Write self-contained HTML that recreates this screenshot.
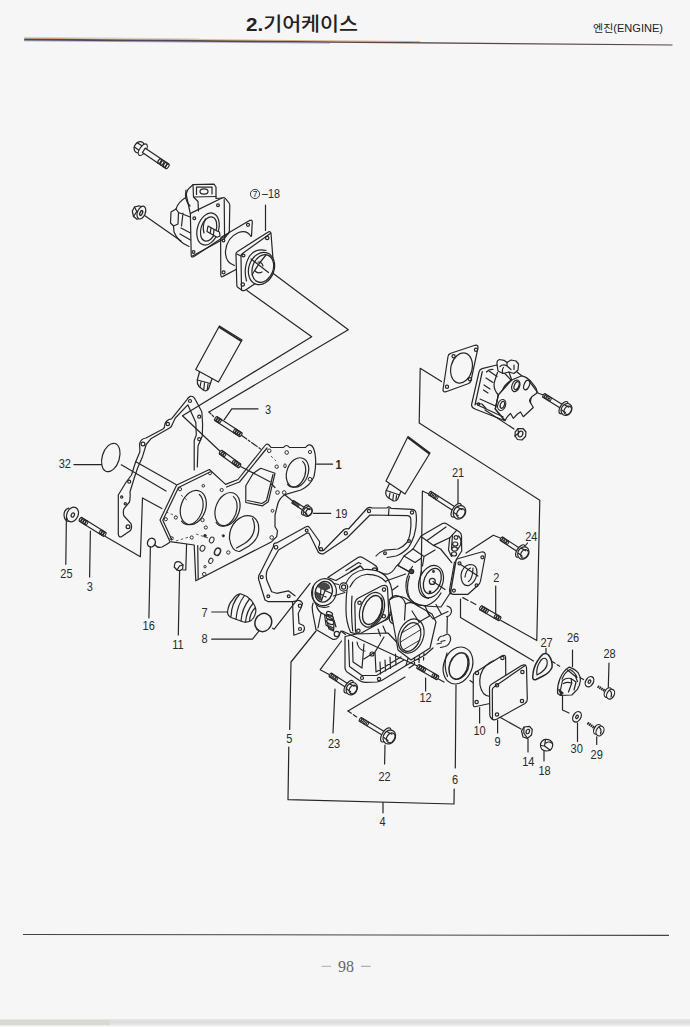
<!DOCTYPE html>
<html lang="ko"><head><meta charset="utf-8"><title>2.기어케이스</title>
<style>
html,body{margin:0;padding:0;background:#f6f6f6;}
body{width:690px;height:1027px;overflow:hidden;position:relative;font-family:"Liberation Sans","Noto Sans CJK KR",sans-serif;}
svg{position:absolute;left:0;top:0;display:block}
.ln{fill:none;stroke:#262626;stroke-width:1.2;stroke-linecap:round;stroke-linejoin:round}
.ld{fill:none;stroke:#3a3a3a;stroke-width:0.9}
.w{fill:#f6f6f6;stroke:#262626;stroke-width:1.2;stroke-linejoin:round}
.k{fill:#333;stroke:none}
.lb{font-family:"Liberation Sans","Noto Sans CJK KR",sans-serif;font-size:12.5px;fill:#2a2a2a;text-anchor:middle}
.ttl{font-family:"Liberation Sans","Noto Sans CJK KR",sans-serif;font-size:19px;font-weight:700;fill:#222}
.sub{font-family:"Liberation Sans","Noto Sans CJK KR",sans-serif;font-size:10.5px;fill:#222}
.pg{font-family:"Liberation Serif","Noto Serif CJK SC",serif;font-size:16px;fill:#666;text-anchor:middle}
</style></head><body>
<svg width="690" height="1027" viewBox="0 0 690 1027">
<!-- 00_frame.svg -->
<defs>
<linearGradient id="hl" x1="0" x2="1" y1="0" y2="0">
<stop offset="0" stop-color="#8a6a6a"/><stop offset="0.25" stop-color="#6a5a7a"/><stop offset="0.4" stop-color="#9a6a4a"/><stop offset="0.6" stop-color="#5a5a6a"/><stop offset="1" stop-color="#6a6060"/>
</linearGradient>
</defs>
<text class="ttl" x="246" y="31" textLength="112" lengthAdjust="spacingAndGlyphs"><tspan font-weight="700">2.</tspan><tspan font-weight="500">기어케이스</tspan></text>
<text class="sub" x="593" y="32" textLength="70" lengthAdjust="spacingAndGlyphs">엔진(ENGINE)</text>
<polygon points="24.2,38.4 300,41 672.5,44.4 672.5,45.5 300,42.6 24.2,40.6" fill="#54484c"/>
<line x1="24.2" y1="38.2" x2="420" y2="41.6" stroke="#c8823c" stroke-width="0.9" opacity=".7"/>
<line x1="24.2" y1="40.8" x2="330" y2="43.1" stroke="#5060b0" stroke-width="0.8" opacity=".6"/>
<line x1="24.2" y1="37.3" x2="200" y2="38.9" stroke="#cfcfcf" stroke-width="0.9"/>
<line x1="23" y1="934.5" x2="669" y2="935.4" stroke="#444" stroke-width="1.1"/>
<text class="pg" x="346" y="972">98</text>
<line x1="321.5" y1="966.3" x2="331" y2="966.3" stroke="#999" stroke-width="0.8"/>
<line x1="361" y1="966.3" x2="370.7" y2="966.3" stroke="#888" stroke-width="0.8"/>
<rect x="0" y="1019" width="690" height="6.5" fill="#e6e6e3"/>
<rect x="0" y="1020" width="110" height="5" fill="#d9d9d4"/>
<rect x="110" y="1020.5" width="580" height="3" fill="#dededa"/>

<!-- 10_topleft.svg -->
<g class="ln">
<!-- nut -->
<path class="w" d="M132.3 211 L134.5 207 L139 205.8 L142 207 L141 218 L137 219.3 L133.5 216.5 Z" stroke-width="1.3"/>
<path d="M134.5 207 L136.8 211.5 L133.5 216.5 M136.8 211.5 L140 211"/>
<ellipse class="w" cx="141.4" cy="212.6" rx="3.9" ry="6.7" transform="rotate(22 141.4 212.6)" stroke-width="1.3"/>
<ellipse cx="141.2" cy="213" rx="1.2" ry="2.6" transform="rotate(22 141.2 213)" stroke-width="1.4"/>
<line x1="144.6" y1="215.6" x2="181" y2="241"/>
<!-- pump plate -->
<path class="w" d="M190.4 215 Q190.2 213.2 192 212.6 L222 198 Q224 197.2 225.5 198.6 L229 203 Q229.8 204 229.8 205.5 L229.3 231.5 Q229.3 233 228 234 L194 256.5 Q191.3 258 191.2 255 Z"/>
<path d="M224.2 199.5 L224.6 238.5 M191.5 256.5 L224.6 238.5 L229.2 232"/>
<circle cx="194.3" cy="218.3" r="1.4"/><circle cx="218" cy="205.2" r="1.4"/><circle cx="193.5" cy="252" r="1.4"/>
<ellipse cx="208" cy="229" rx="10.5" ry="16.5" transform="rotate(18 208 229)"/>
<ellipse cx="208.6" cy="229" rx="7.6" ry="12.5" transform="rotate(18 208.6 229)"/>
<path d="M204 233 Q202 226 205.5 219"/>
<path class="w" d="M208 226 L217.5 231.2 L219.5 232 L220 236 L217 237.3 L207 231.5 Z"/>
<path d="M211 228 L210.2 233.2 M214 229.6 L213.4 235"/>
<!-- pump body -->
<path d="M190.4 214 L186.5 196 Q186 190.5 190 187.5 L193 184.6 L214 184.2 L216 187 L216 198.5 L222 198"/>
<path d="M193 184.6 L193.5 197 L198 201.5 L198.5 211 M193.5 197 L216 196.5 M196.5 187.2 L196.5 194.5 M196.5 187.2 L212 187 L212 194"/>
<ellipse cx="204" cy="191.5" rx="4" ry="2.6"/>
<path d="M186.5 197 Q178 202 176 209 L171 212 L170.5 223 L173.5 226 L174 232 Q178 242 189 246.5"/>
<path d="M176 209 L178.5 212.5 L178 224 L173.5 226 M178.5 212.5 L190.2 217 M181 228 L190.5 233 M180 234 L190.5 240 M183 213 L181.5 226"/>
<path d="M186 190 Q184 200 190 206"/>
<!-- gasket -->
<path d="M220.6 239 Q220.4 237.6 222 236.8 L249.5 220.6 Q252.3 219.2 252.3 222 L251.5 236"/>
<path d="M220.6 239 L220.8 275 Q220.9 277.6 223 276.4 L236 269.5"/>
<path d="M251 236.5 Q247 229.5 238.5 232.5 Q227 237.5 225.5 251 Q225 262.5 234.5 265.5"/>
<circle cx="248" cy="224.8" r="1.5"/><circle cx="223.6" cy="272.3" r="1.5"/><circle cx="223.5" cy="240.5" r="1.3"/>
<!-- adapter 7-18 -->
<path class="w" d="M236 254.5 Q235.8 252.6 237.6 251.6 L267.5 232.4 Q270.6 230.6 271 233.5 L273 259 L273.3 271 L246 289.8 Q243.5 291.5 241.5 290 L238 287.6 Q236.8 286.8 236.8 285 Z"/>
<path d="M241.5 290 L241 256 Q241 254.5 242.5 253.5 L270.6 233.2"/>
<path d="M236.8 254 L241 256"/>
<circle cx="267.2" cy="238" r="1.7"/><circle cx="242.8" cy="284.5" r="1.7"/><circle cx="243.5" cy="255.5" r="1.4"/>
<ellipse class="w" cx="261.5" cy="268.5" rx="12.6" ry="16.6" transform="rotate(20 261.5 268.5)"/>
<ellipse cx="262.8" cy="268.5" rx="10.3" ry="14.3" transform="rotate(20 262.8 268.5)"/>
<path d="M246.5 281 Q243 268 249 257 Q255 247.5 266 250.5"/>
<path d="M251 259 L268.5 272.5 M252 275 Q258 264 266 255"/>
<path d="M258 262 Q262 262 263 266 M255 271 Q258 274 262 272"/>
<line x1="265.5" y1="205" x2="265.5" y2="230.5"/>
<!-- axis lines -->
<path d="M273.3 273.5 L348.3 329.7 L209 412"/>
<path d="M247 290.5 L311.7 336.7 L182.5 415.8"/>
</g>
<g class="lb">
<circle cx="255" cy="194" r="4.6" fill="none" stroke="#2a2a2a" stroke-width="0.9"/>
</g>

<!-- 20_gasket_left.svg -->
<g class="ln">
<!-- sealant tube 1 -->
<path d="M219.4 326 L242 340 L218.5 382 L195.7 369.5 Z"/>
<path d="M219.8 327.5 L241 341" stroke-width="1.6"/>
<path d="M199.5 372 L197.3 380 Q196.8 384 199 386.5 L204 390.5 Q207 391.5 208.5 389 L212 378.7"/>
<path d="M197.3 380 L210.5 383.5 M201 382 L200 387 M204.5 383 L203.8 389.5 M208 384 L207.3 389.5"/>
<!-- stud 3 upper -->
<path d="M224.3 419.6 L231.8 408.9 L258 408.9"/>
<path d="M209 412 L213.5 416.5" stroke-dasharray="3 1.5"/>
<path d="M241 435 L262 450" stroke-dasharray="7 2 2 2"/>
<!-- stud lower -->
<path d="M182.5 415.8 L220.3 451.5"/>
<!-- back gasket outline -->
<path d="M197.3 467 L198 446 L202.3 436 L202.6 424 L201.8 411.7 L195.3 399.5 Q193.5 395.5 190.3 396.4 Q188 397.5 186.8 399.8 L171.5 418.8 Q166 419.5 164.8 424.5 Q165 427.5 163 429 L146 438 Q140.5 438.5 139.5 444.5 Q140 449 139.8 452 L135.6 462 L131.5 475 L126.2 482 L118.3 495 L118.3 534 Q118.5 537.5 121.8 536.6 L130.5 530.5 Q132.5 527 130.8 523.3 L124 516 Q122.5 512 124.2 508.3 L129.5 502 Q130.5 497 130 491.7 L134.2 478.3 L137.5 468.3 L142.5 456.7 L146.2 444.5 L150.8 438.8 L169.5 428 Q171.5 427 172 425 L175.3 418 L187.8 404.8 L195.8 422.5 L196.3 435 L194.2 440.5 L194.2 470"/>
<circle cx="190" cy="401" r="1.5"/><circle cx="199.2" cy="416.7" r="1.5"/><circle cx="199.2" cy="439.2" r="1.5"/>
<circle cx="167.8" cy="424" r="1.7"/><circle cx="143" cy="444" r="1.9"/><circle cx="129.2" cy="481.7" r="1.5"/>
<circle cx="121.7" cy="497" r="1.1"/><circle cx="125.3" cy="503.7" r="1.1"/><circle cx="128" cy="526.7" r="1.9"/>
<!-- leader lines gasket to plate -->
<path d="M135.8 461.7 L176 484.5 M121.3 464.8 L166 491"/>
<!-- o-ring 32 -->
<ellipse cx="110.8" cy="457.5" rx="8.6" ry="14.6" transform="rotate(17 110.8 457.5)"/>
<line x1="73.9" y1="464.6" x2="101.5" y2="464.6"/>
<!-- plug 25 -->
<ellipse cx="72.5" cy="514.5" rx="5.6" ry="7.6" transform="rotate(25 72.5 514.5)"/>
<path d="M68.8 508.2 Q64 509.5 64 515 Q64.3 520.5 68.3 521.5"/>
<ellipse cx="72.8" cy="515" rx="1.5" ry="2.2" transform="rotate(25 72.8 515)"/>
<path d="M66.4 517.5 L65.8 564.3"/>
<!-- stud 3 left -->
<path d="M90.4 531 L89.6 577"/>
<path d="M105.4 536.4 L140.4 556.8 L142.5 497.9 L161.8 508.6"/>
<!-- o-ring 16 -->
<ellipse cx="151.4" cy="542.6" rx="3.8" ry="4.5" transform="rotate(25 151.4 542.6)" stroke-width="1.4"/>
<path d="M155 545 Q158 548.5 162 547 Q166 545 169.5 542.5"/>
<path d="M150.4 547 L148.9 617.9"/>
<!-- pin 11 -->
<path class="w" d="M175 563 Q177.5 560.8 180.5 562.3 L183 565 L182.6 569 Q180 571.5 177 570 L174.2 567 Z"/>
<path d="M179.5 566 L183 565 M179.5 566 L177 570"/>
<path d="M179.6 570.7 L178.3 635"/>
<path d="M186.6 543.5 L185.8 570 L183.2 570"/>
</g>
<g class="lb">
</g>

<!-- 21_plate.svg -->
<g class="ln">
<!-- plate 1 outline -->
<path class="w" d="M176.7 485 L209.4 469.5 L225.6 484.4 L238 479.5 L265 445.5 Q266.5 443.5 268.5 444.5 L271 447.3 L283.5 447.5 Q286.5 443.5 289.5 447.5 L305.5 447.5 Q308.8 443 312 446 Q314.5 449 315.2 455 Q316.6 465 314 476.5 Q310 486 300.8 490 L285 494.6 Q279 498.5 277.5 505 L275 515 L275 526.7 L277.5 530.8 L276.7 536.7 L271.7 541.7 L195.8 580.8 L194.2 545 L170 541.7 L160 520 Z"/>
<path d="M178.5 487.5 L162.8 520.3 L171.8 539.7 M178.5 487.5 L209 472.5 M197.7 545.5 L198.2 579"/>
<path d="M226.5 487 L239.5 482 L267 448" />
<!-- big holes -->
<ellipse cx="193.3" cy="507.5" rx="12.3" ry="17.6" transform="rotate(20 193.3 507.5)"/>
<path d="M199.4 494.5 A11.2 16.6 20 1 1 181.6 521.1"/>
<ellipse cx="227.5" cy="509.2" rx="11.8" ry="17.2" transform="rotate(20 227.5 509.2)"/>
<path d="M233.4 496.6 A10.8 16.2 20 1 1 216.1 522.5"/>
<path d="M229.5 539 Q229 528 236 521 Q244 513.5 252.5 516.5 Q260 521 258.5 532 Q257.5 540 249 546 L239.5 551.5 Q232 552 229.5 539 Z"/>
<path d="M252.5 518.5 Q256 525 253.5 532.5 Q251.5 539 244.5 543.5 L236.5 548"/>
<ellipse cx="297.5" cy="472.5" rx="10.6" ry="15.2" transform="rotate(20 297.5 472.5)"/>
<path d="M302.6 461.4 A9.4 14.2 20 1 1 287.5 484.2"/>
<!-- pentagon hole -->
<path d="M260.8 468.3 L275 473.3 L268.3 501.7 L262.5 505.8 L245.8 502.5 L245.8 485.8 L253.3 473.3 Z"/>
<path d="M273 474.5 L266.5 500.5 L262 503.5 L247.5 500.5"/>
</g>
<g fill="none" stroke="#2e2e2e" stroke-width="1">
<circle cx="180" cy="489.2" r="1.6"/><circle cx="203.3" cy="485.8" r="1.3"/><circle cx="210" cy="473.3" r="1.5"/><circle cx="221.7" cy="490" r="1.6"/>
<circle cx="165.8" cy="519.2" r="1.6"/><circle cx="175.8" cy="517.5" r="1.6"/><circle cx="202.5" cy="520" r="1.7"/><circle cx="205.8" cy="527.5" r="1.6"/>
<circle cx="205" cy="535.8" r="1.3" fill="#333"/><ellipse cx="211.7" cy="540" rx="2.2" ry="3" transform="rotate(25 211.7 540)"/>
<circle cx="191.7" cy="537.5" r="1.6"/><circle cx="171.7" cy="538.3" r="1.6"/>
<ellipse cx="202.5" cy="548.3" rx="2.3" ry="3" transform="rotate(25 202.5 548.3)"/>
<ellipse cx="217.5" cy="551.7" rx="2.8" ry="3.8" transform="rotate(25 217.5 551.7)" stroke-width="1.5"/>
<circle cx="228.3" cy="552.5" r="1.7"/><circle cx="223.3" cy="535.8" r="1.1" fill="#333"/>
<ellipse cx="210.8" cy="560.8" rx="2" ry="2.7" transform="rotate(25 210.8 560.8)"/><circle cx="205" cy="566.7" r="1.2"/><circle cx="204.2" cy="574.2" r="1.8"/>
<circle cx="269.2" cy="450.8" r="1.8"/><circle cx="286.7" cy="452.5" r="1.8"/><circle cx="310" cy="452" r="1.6"/>
<circle cx="276.7" cy="466.7" r="1.7"/><ellipse cx="285" cy="465.8" rx="1.2" ry="2"/><circle cx="310" cy="479.2" r="1.8"/>
<circle cx="277.5" cy="492.5" r="1.8"/><circle cx="284.2" cy="492.5" r="1.8"/><circle cx="272.5" cy="510.8" r="1.4"/><circle cx="271.7" cy="537.5" r="1.8"/>
<path d="M181 495 L187 500 M166 512 L176 516 M176 541 L189 537 M208 538 L196 534" stroke-dasharray="2.5 2.5" stroke-width="0.8"/>
<path d="M271 456 L276 461" stroke-dasharray="2.5 2.5" stroke-width="0.8"/>
</g>
<g class="ln">
<!-- bolt 19 -->
<path d="M285 495 L301.5 508"/>
<line x1="313.3" y1="513.3" x2="330.8" y2="513.3"/>
<line x1="316.7" y1="464.2" x2="332.5" y2="464.2"/>
</g>
<g class="lb">
</g>

<!-- 30_frontgasket.svg -->
<g class="ln">
<path d="M239.6 466 L270 481.7 M271.5 484 L275 487.5"/>
<!-- item 7 cap -->
<path class="w" d="M227.5 612 Q228.5 604 232.5 600 Q236 594 240.5 593.8 L247 596.5 Q252 600 254.3 605 Q256.5 609 255.6 612.5 Q254.5 618 250.8 620.8 Q247 623 243 621.7 L231 617.5 Q227.5 615.5 227.5 612 Z"/>
<path d="M239.5 594.5 Q231.5 603 231 616.5 M244.5 595.5 Q237 605 236 619.3 M249.5 599 Q242 608 241 621 M253 603.5 Q246.5 611 245.5 622 M255 608 Q250 613 249.5 621"/>
<line x1="211.7" y1="612" x2="227.5" y2="612"/>
<!-- o-ring 8 -->
<ellipse cx="263.3" cy="622.5" rx="8.2" ry="9.3" transform="rotate(25 263.3 622.5)" stroke-width="1.5"/>
<path d="M211.7 639.2 L252.5 639.2 L259 631"/>
<path d="M310 583.3 L274.2 629.2 L272.5 628.2"/>
<!-- front gasket 5 -->
<path d="M296.7 600.8 L292.5 601.7 L268.3 601.7 L265 600 L259 580.5 Q257.5 576.5 260 573.5 L273.5 546.5 Q273 542.5 277 542.8 L306 526.8 Q308 525.5 309.5 527.5 L319.5 541.5 Q320 544.5 318.5 547 Q319.5 551.5 323.5 550.5 L344 529.5 Q347 528 348.5 529 L367 508.5 Q369.5 506.5 372 508 L387 508 Q389 505.5 391 508.3 L412 509.3 Q415.5 509.5 416 513 Q417.5 524 414 536 Q411 544 408 548 Q402 554 396 556 L387 557.5"/>
<path d="M295 595.8 L288.3 590.8 L276.7 593.3 L271.7 591.7 L266.7 580 Q265.5 574 267.5 569.5 L278.5 550 L306.5 533.2 L309 533.2 L317.5 550.5 Q319 554.5 323.5 553.8 L347 538 L370 515 L408 515.6 Q410.5 516 410.8 519 Q411.5 526 410 534 Q409 539 407 542.5 Q403 547 398 549 L384.5 550.2 Q379 552 376 556"/>
<path d="M296.7 600.8 Q300.5 599.5 302.5 603.3 Q301.5 608 298.3 613.3 L299 623.5 L303.5 625.5 Q305.5 628.5 303.3 631.7 L293.8 635.2 L292.5 601.7"/>
<circle cx="300" cy="605.8" r="1.7"/><circle cx="300" cy="629" r="1.5"/>
<circle cx="268.3" cy="596.2" r="1.4"/><circle cx="288.7" cy="596.2" r="1.4"/><circle cx="261.7" cy="577.2" r="1.5"/>
<circle cx="276" cy="547.3" r="1.8"/><circle cx="306.7" cy="530.6" r="1.4"/><circle cx="320.9" cy="549.3" r="1.7"/>
<circle cx="345.8" cy="533.2" r="1.6"/><circle cx="369" cy="511" r="1.6"/><circle cx="412" cy="512.5" r="1.6"/><circle cx="409" cy="541" r="1.4"/><circle cx="385" cy="553.3" r="1.4"/>
<path d="M389 508 L388.5 515.5"/>
<!-- leader 5 -->
<path d="M316 631 L291 662 L289.7 729.5"/>
<!-- sealant tube 2 -->
<path d="M408 436.6 L430 453 L405 494 L386 481 Z"/>
<path d="M408.5 438 L429 453.5" stroke-width="1.6"/>
<path d="M389.5 483.5 L386 491 Q385 495 388 497.5 L393 500.8 Q396 501.5 397.5 499.5 L401 491.3"/>
<path d="M386.5 490.5 L399.5 495 M390 493 L389 498 M393.5 494.5 L392.8 500.3 M396.5 495.5 L396 500.5"/>
<line x1="458" y1="479.5" x2="458" y2="503"/>
</g>
<g class="lb">
</g>

<!-- 40_case.svg -->
<g class="ln">
<!-- ===== main gear case, left ===== -->
<!-- top bracket arm -->
<path class="w" d="M327.8 577.5 L358 557.5 Q360.5 556.3 363 557.8 L374 564.6 Q378.5 567 377.5 571.5 Q376.5 575 373 576 L366 572 L360.5 566 L336 580.5 Z"/>
<path d="M346 570.5 L358.5 562.5 L361 563.8 M350.5 571.5 L360 565.7"/>
<circle cx="374.5" cy="570" r="2.2"/>
<!-- outer housing -->
<path class="w" d="M345.5 584 Q351 571.5 365 569.5 Q378 569 385.5 576 Q392 583 392.5 596 L392 608 L388 619 L356.5 634 L350.6 632.3 Q346 622 346 610 Q346 596 347 591 Z"/>
<path d="M352 596 Q350.8 612 352.7 631"/>
<path d="M350 587 Q355 576 366 574.5 Q379 574 386 582"/>
<!-- flange face -->
<path class="w" d="M354.8 603.5 Q355.5 599.5 358.5 598 L382 585.8 Q387 584.3 387.5 588 L388.8 613.5 Q388.6 617.5 385 620 L360.5 633.5 Q355.8 635 355.5 631 Z"/>
<circle cx="359.5" cy="602.8" r="1.7"/><circle cx="384" cy="589.6" r="1.7"/><circle cx="383.8" cy="616.3" r="1.7"/><circle cx="358.4" cy="630.8" r="1.7"/>
<ellipse cx="372" cy="609.8" rx="11.6" ry="18" transform="rotate(21 372 609.8)"/>
<ellipse cx="372.3" cy="610" rx="8.8" ry="15.2" transform="rotate(21 372.3 610)" stroke-width="1.4"/>
<path d="M381.5 598 Q384 604 381.5 613 Q378.5 622 371 626"/>
<!-- boss ring for item 7 -->
<ellipse class="w" cx="324" cy="592.2" rx="12.2" ry="13.6" transform="rotate(20 324 592.2)"/>
<path d="M313.5 586 Q310.5 597 316 604.5 Q321 609 329 606.5"/>
<ellipse cx="323.8" cy="591.8" rx="8.4" ry="10.5" transform="rotate(20 323.8 591.8)" stroke-width="1.4"/>
<path d="M318 586.5 Q320 582.5 325 583 Q329.5 584 330 588 L325 590.5 L321 588.5 Z" fill="#4a4648" stroke="#333" stroke-width="0.8"/>
<path d="M315.8 592 L320.5 594 L321.5 600.5 L318.5 599 Q315.5 596 315.8 592 Z" fill="#4a4648" stroke="#333" stroke-width="0.8"/>
<path d="M321 588.5 L320.5 594 M325 590.5 L321.5 600.5 M325 590.5 L331.5 593.5 M320.5 594 L326 597"/>
<circle class="w" cx="343.6" cy="587" r="4.1"/><circle cx="343.6" cy="587" r="2.1"/>
<path d="M334 583.5 L338.5 584.5 M333.5 596 L345 592.5"/>
<!-- left lower bracket -->
<path d="M313 603 Q311.5 607 312.6 612 L316 629.6 L332.7 639.3 Q336 640 338 637.5 L341 631 L345.5 634.5"/>
<path d="M316.5 606 Q318 612 324.5 614.5 L329 617 M318 628 L321 613 M324.5 614.5 L326 625 L333 630 M329 617 L334 620 L336 627"/>
<ellipse cx="329.5" cy="613.8" rx="3.2" ry="2" transform="rotate(25 329.5 613.8)"/><ellipse cx="329.8" cy="617.5" rx="3.8" ry="2.3" transform="rotate(25 329.8 617.5)"/><ellipse cx="330.3" cy="621.8" rx="3.8" ry="2.3" transform="rotate(25 330.3 621.8)"/><path d="M327.5 623 L329 629 L333.5 631 L334 624" stroke-width="1.3"/><path d="M329.5 626 L333 628" stroke-width="1.3"/>
<circle cx="336.8" cy="634" r="2.6"/>
<!-- lower housing -->
<path class="w" d="M345 636.5 L345 668 Q345.5 671.5 348.5 673 L359.5 680.5 Q362.5 682.5 366 682.3 L377 682 Q380 681.5 382.5 680 L406 665.5 L409 655 L388 633 L356.5 634 Z"/>
<path d="M348.5 640 L349.5 666.5 L362 675.5 L376.5 675.5 L404 660"/>
<path d="M352.5 642 L353 662 L362 668 M357 642 Q358 648 362 650 L365 651 M362 668 L364 644 M364 659 L375 652 L376 672 M375 652 L384 637 M380 662 L380.5 674 M385 660 L385.5 671 M390 657 L390.5 668.5 M395.5 654 L396 665 M376 672 L401 657"/>
<circle cx="372" cy="654" r="2"/><circle cx="379" cy="679" r="1.6"/><circle cx="362" cy="678" r="1.5"/>
<path d="M383 626 L386 633 M378 629 L380.5 636"/>
<!-- right boss -->
<circle class="w" cx="394.9" cy="618.5" r="5.6"/><circle cx="394.9" cy="618.5" r="3.2" stroke-width="1.4"/>
<!-- second bore (lower right) -->
<path class="w" d="M389 600 Q397 594 405 598 L418 606 L432 614 L436 622 L430 648 L411 660 L398 650 Z" stroke="none"/>
<ellipse class="w" cx="411" cy="636" rx="12.3" ry="17.6" transform="rotate(21 411 636)"/>
<ellipse cx="410.5" cy="637" rx="9.6" ry="14.8" transform="rotate(21 410.5 637)"/>
<path d="M401.5 633 L419.5 622.5 M400.5 642 L421 629.5 M403 650 L420 640" stroke-width="0.9"/>
<path d="M389.5 600 Q393 594.5 398.5 596 Q404 598 405.5 604 L404.5 620"/>
<path d="M405.5 604 Q412 600.5 419 606"/>
<!-- bottom right of lower housing -->
<path d="M406 665.5 L425 655 L433 648 M409 668 L414.5 664.5 L414.5 657.5 M419 662.5 L419.5 655.5 M423.5 660 L424 653"/>
<!-- bridge -->
<path d="M379.6 572 Q388 577.5 394 569.5 Q398 563 403.5 561 L412 567.6 M386 581 L405.6 574 M392.5 590 L398 586"/>
<!-- ===== right part ===== -->
<path class="w" d="M421 536 L442.5 523.5 Q444.5 522.5 446.5 523.7 L459.5 532 Q461.5 533.5 461.5 536 L461.7 551 L456 560 L450.5 592.5 L441 607 L425 606 Q412 604.5 408 596 Q404.5 588 407 578 L409.5 572 L398 565.5 L404 556 L413 549 Z"/>
<path d="M421.3 536.8 L433.5 545.4 L449.7 537.8 L456.8 530.2 M433.5 545.4 L440.6 549 L451.7 562.7 M427 540.5 L446 527"/>
<path d="M449.7 537.8 L448.5 550 L451.5 556.5 M452.5 534.5 L451.5 549"/>
<circle cx="456" cy="537.5" r="1.9"/><ellipse cx="455.2" cy="544" rx="2.6" ry="2" /><ellipse cx="454.6" cy="549" rx="2.8" ry="2.1"/><ellipse cx="454" cy="554" rx="2.6" ry="2"/>
<path d="M458.5 536 Q462 539 460.5 545 L458 549"/>
<path d="M413 549 L424 556.5 L435 550 M424 556.5 L422.5 566 M404 556 L415 562.5 L421.5 558"/>
<path d="M398 565.5 L409 571.5 L412.5 566.5"/>
<circle cx="411.5" cy="571.5" r="2.2" fill="#444"/>
<!-- hub -->
<ellipse class="w" cx="431" cy="581.7" rx="11.7" ry="16.8" transform="rotate(21 431 581.7)"/>
<ellipse cx="432.3" cy="581" rx="8.2" ry="13.2" transform="rotate(21 432.3 581)" stroke-width="1.3"/>
<circle cx="432.3" cy="581.4" r="3"/>
<path d="M421.5 571 Q418.5 581 421.5 591 Q424 597 428.5 598.5"/>
<circle cx="433.5" cy="571.5" r="0.8"/><circle cx="430" cy="592" r="0.8"/>
<path d="M409.5 576 Q405.5 588 409.5 598 Q415 606.5 427 605.5 Q436 602 441 593"/>
<path d="M433 581.5 L445 589.5"/>
<!-- square flange -->
<path class="w" d="M456 561 Q456.3 559 458.5 558.5 L481.5 552 Q485.5 551.5 485.3 555.5 L480.5 581 Q480 584 477.5 585.8 L468 594.3 L453 594.3 Q450.5 594 450.8 591.5 Z"/>
<path d="M454.5 562 L449.5 590 Q449.3 592.5 450.8 593.8"/>
<circle cx="459.5" cy="563.4" r="1.5"/><circle cx="482.4" cy="557.3" r="1.5"/><circle cx="453.9" cy="590.6" r="1.5"/><circle cx="476.5" cy="585.2" r="1.4"/>
<path d="M461 575 Q462.5 565.5 470 564.5 Q477.5 564.5 477 573 Q476 582 469 585.5 Q461.5 587 461 575 Z"/>
<path d="M465 577 Q466 569.5 470.5 568 M468.5 581.5 Q471.5 579.5 472.5 573.5 L473 568" />
<path d="M459.8 564 L478 576"/>
<!-- small arm below hub -->
<path d="M436 604.5 L441.5 614.5 L433 619 L427 611.5 M441.5 614.5 L448 611.5"/>
<path d="M447 606 Q451.5 607 451.5 611.5 Q450.5 616.5 446.5 616.5"/>
<path d="M447.3 617 L447 633"/>
<path d="M438 640.5 Q439 636 443 636 L447.5 634 Q451 635.5 450.5 640 Q449.5 645 445 646.5 L440.5 647.5 M441 641.5 L445 640.5 M437 644 L441.5 643"/>
<path d="M425 606 L429.5 616 L419 622 L412 611"/>
</g>

<!-- 50_right.svg -->
<g class="ln">
<path d="M430 494.5 L422.4 491 L421.2 574"/>
<!-- bolt 24 and leader -->
<path d="M466 553 L493.3 535.2 L500.9 538.3"/>
<path d="M527.5 543 L525.5 545.5"/>
<!-- stud 2 -->
<path d="M462.8 597.6 L475.8 604.5" stroke-dasharray="6 3"/>
<line x1="495.7" y1="586.2" x2="495.7" y2="614"/>
<path d="M500.9 620.4 L536.8 640.5 L539.8 500.2 L419.2 423 L420.2 368.3 L441.5 381.6"/>
<path d="M460.5 599 L460.5 617.4 L533.5 661"/>
<!-- item 27 -->
<path d="M543 654.2 Q546 652.5 548.5 655 Q553 661 552 667.5 Q549.5 673 543 676 L536 679.5 Q532.5 680.5 532.7 677 Q533 668 537.5 661 Q540 656.5 543 654.2 Z" stroke-width="1.5"/>
<path d="M543 658.5 Q546 657.5 547 660.5 Q548 665.5 544.5 669.5 Q541 673.5 537 675 Q536 668 539.5 662.5 Q541 659.5 543 658.5 Z"/>
<line x1="546" y1="648.5" x2="546" y2="653"/>
<path d="M552.5 661.7 L561.7 667.5" stroke-dasharray="3 2.5"/>
<!-- item 26 -->
<path class="w" d="M557.6 693.5 Q557 686 560.1 678.3 Q563.5 670.5 569.3 667.1 Q574.5 668.5 578.4 673.2 Q580.5 676.5 580.4 680.3 Q580 685.5 577.4 689.4 L571.8 695 L560.1 695.3 Z" stroke-width="1.4"/>
<path d="M562 679 Q565 672 570 669.5 Q575 672 577 677.5 M567.5 670 L575.5 676.5 L577.5 681.5 M562.5 680.5 Q566 677.5 571 678.5 L576 682 L574 690 M562.5 680.5 L560.5 690 M571 678.5 L571.8 683 L568.5 692 M563.5 683.5 Q567 681.5 571.5 683"/>
<path d="M559 689.5 L563 693 L561 695 Z" fill="#333"/>
<line x1="572.5" y1="650" x2="572.5" y2="666.5"/>
<path d="M562.5 696 L562.5 710 L569 713"/>
<!-- washers -->
<ellipse cx="589.5" cy="681.7" rx="3.8" ry="5.5" transform="rotate(30 589.5 681.7)" stroke-width="1.3"/>
<ellipse cx="589.5" cy="681.7" rx="1.2" ry="1.8" transform="rotate(30 589.5 681.7)"/>
<path d="M580 677.5 L583.5 679.5"/>
<ellipse cx="577" cy="716.8" rx="3.8" ry="5.6" transform="rotate(30 577 716.8)" stroke-width="1.3"/>
<ellipse cx="577" cy="716.8" rx="1.2" ry="1.8" transform="rotate(30 577 716.8)"/>
<line x1="577.5" y1="723" x2="577.5" y2="741.5"/>
<!-- bolt 28 -->
<path d="M597.7 686.4 L605.3 691" stroke-width="2.8" stroke-dasharray="1.5 0.6" stroke-linecap="butt"/>
<ellipse class="w" cx="608" cy="692.6" rx="3.3" ry="5.2" transform="rotate(28 608 692.6)" stroke-width="1.3"/>
<ellipse class="w" cx="610.6" cy="694.2" rx="3.6" ry="5.2" transform="rotate(28 610.6 694.2)" stroke-width="1.3"/>
<path d="M609.5 690.5 Q612.5 692 611 697"/>
<line x1="609" y1="663" x2="608.3" y2="687.3"/>
<!-- bolt 29 -->
<path d="M587.5 722.9 L594.6 728" stroke-width="2.8" stroke-dasharray="1.5 0.6" stroke-linecap="butt"/>
<ellipse class="w" cx="597.4" cy="729.4" rx="3.3" ry="5.2" transform="rotate(28 597.4 729.4)" stroke-width="1.3"/>
<ellipse class="w" cx="600" cy="731" rx="3.6" ry="5.2" transform="rotate(28 600 731)" stroke-width="1.3"/>
<path d="M599 727.3 Q602 729 600.5 734"/>
<line x1="596.7" y1="736.8" x2="596.7" y2="744.5"/>
<!-- oil seal 6 -->
<ellipse class="w" cx="458" cy="665.5" rx="14.2" ry="19" transform="rotate(21 458 665.5)" stroke-width="1.2"/>
<ellipse cx="459" cy="666" rx="9.4" ry="13.6" transform="rotate(21 459 666)" stroke-width="1.5"/>
<path d="M466 655.5 Q469.5 661 466.5 670 Q463 677.5 456.5 679.5"/>
<path d="M447 653 Q443 665 447.5 676.5"/>
<path d="M456 685 L455.3 768 M454.2 789 L454 804 L288 799.7 L288.8 747"/>
<line x1="383" y1="802.6" x2="383" y2="812.8"/>
<!-- axis stud12 through seal -->
<path d="M342.3 631 L417.5 666 M437.5 678.5 L444 682 M470 680.5 L473.5 683"/>
<!-- stud 12 -->
<line x1="425.6" y1="678" x2="425.6" y2="691"/>
<!-- gasket 10 -->
<path class="w" d="M473.3 676 Q473.2 673.5 475.5 672.3 L502.5 655.6 Q505.5 654.3 505.6 657.5 L506 700 L476 706.5 Q473.3 707.5 473.2 704.5 Z"/>
<path d="M494 660.5 Q484 664 480.5 675 Q478 686 483.5 693.5 Q486 696 490 696.5"/>
<circle cx="477" cy="673" r="1.7"/><circle cx="502.4" cy="658" r="1.7"/><circle cx="476.6" cy="702" r="1.7"/>
<line x1="479.6" y1="707.5" x2="479.6" y2="723"/>
<!-- cover 9 -->
<path class="w" d="M489.5 688 Q489.5 685.5 491.5 684.3 L521.5 665.5 Q526 663.5 526.5 667.5 L527.3 699 Q527.3 702 525 703.5 L496.5 719.3 Q493.5 720.5 492 719 L490.3 717 Q489.8 716 489.8 714.5 Z"/>
<path d="M492.5 719.3 L492.3 690 Q492.3 688 494 687 L525.5 665.2"/>
<circle cx="497" cy="685.3" r="1.7"/><circle cx="522.4" cy="672" r="1.7"/><circle cx="522" cy="701" r="1.7"/><circle cx="497" cy="714.5" r="1.7"/>
<line x1="497.6" y1="720" x2="497.6" y2="733"/>
<line x1="500" y1="717.3" x2="521" y2="729"/>
<!-- nut 14 -->
<path class="w" d="M521.5 731 L524 727 L529.5 726.3 L532.3 729.5 L531.5 735 L527.5 738.3 L523 737 Z" stroke-width="1.3"/>
<ellipse cx="527.8" cy="731.5" rx="1.6" ry="2.3" transform="rotate(25 527.8 731.5)"/>
<path d="M524 727 L523.8 733 L527.5 738.3"/>
<line x1="528" y1="739" x2="528" y2="752"/>
<!-- nut 18 -->
<path class="w" d="M540.5 744 Q541.5 740 545.5 739.3 Q550.5 739 552.5 743 Q553.5 747.5 550 750.3 Q545.5 752 542 749.5 Q540 747 540.5 744 Z" stroke-width="1.3"/>
<path d="M545.5 739.5 L544.5 746 L550 750 M544.5 746 L540.8 745.5 M546 743 Q549 741 551.5 743"/>
<line x1="544" y1="751.5" x2="544" y2="761"/>
<!-- bracket for 23 and bolt 23 -->
<path d="M341.5 641 L320.2 669.7 L330 675"/>
<path d="M335 689 L333 733"/>
<!-- bolt 22 -->
<path d="M405 677 L348 711" />
<path d="M348 711 L357.5 717.5" stroke-dasharray="4 2.5"/>
<line x1="385" y1="745" x2="384.6" y2="764"/>
</g>
<g class="lb">
</g>

<!-- 60_pump2.svg -->
<g class="ln">
<!-- gasket of pump 2 -->
<path d="M448 356.5 Q448.3 354 450.8 353.3 L475 345.3 Q478.2 344.5 478 347.8 L471 380.5 Q470.5 383 468 383.8 L446 391.7 Q442.8 392.5 443 389.5 Z"/>
<ellipse cx="461.5" cy="368" rx="10.6" ry="15.3" transform="rotate(14 461.5 368)"/>
<circle cx="453.6" cy="356.3" r="1.6"/><circle cx="476" cy="349.8" r="1.6"/><circle cx="470" cy="379.3" r="1.6"/><circle cx="447" cy="386.7" r="1.6"/>
<!-- pump 2 flange -->
<path class="w" d="M479 372 Q479.5 369.5 482 368.6 L496.7 365 L511 380 L498.5 395 L495.3 409 L505 420.8 L475 409 Q471 407.5 471.7 404 Z"/>
<path d="M482.3 371.5 L475 405 M475.5 403.5 L482 404 L486 408.5"/>
<circle cx="478.5" cy="404" r="1.2"/>
<!-- port block -->
<path class="w" d="M497 364 Q496.5 360.5 499.5 359.5 L504 360.3 L507 362.5 L511 360 L516 361 L518.5 364 L518 370 L514 373.5 L509 372 L503 373.5 L498 371 Z"/>
<path d="M500 366.5 Q503 363.5 507 366 L511 369.5 M507 362.5 L507 366 M503 373.5 Q501.5 370 503.5 367.5 M514 365 L514 369.5"/>
<!-- body -->
<path class="w" d="M498.3 395 L511.7 380 L521.7 375.8 Q527 377 531 381.5 L535 386.7 Q537.5 390 536.7 393.3 L531.7 396.7 Q530 400 530.8 403.3 L533.3 407.5 L523.3 416.7 L520.5 412 L517.5 414 L513.3 418.3 L510.5 413.5 L507.5 416.5 L505 420.3 L495.3 409 Z"/>
<path d="M511.7 380 L509 372 M521.7 375.8 L517 372 M495.3 409 L498.3 395"/>
<ellipse cx="515.8" cy="385.8" rx="3.8" ry="6" transform="rotate(22 515.8 385.8)"/>
<ellipse cx="516.6" cy="385.6" rx="2.2" ry="4.2" transform="rotate(22 516.6 385.6)"/>
<ellipse cx="526.7" cy="385" rx="2.6" ry="5" transform="rotate(22 526.7 385)"/>
<ellipse cx="501.7" cy="405" rx="3.8" ry="5.6" transform="rotate(22 501.7 405)"/>
<ellipse cx="502.4" cy="404.8" rx="2" ry="3.6" transform="rotate(22 502.4 404.8)"/>
<path d="M531 398 Q528.5 400 530.5 403 M486 378 L493 382.5 M484 385 L490 389 M483.5 390 L488 393 M489 371 L497 376.5"/>
<path d="M477.5 405 L503 416.8 M480 399 L495.5 406 M498.3 395 Q492 388 495 380 L497.5 372.5 M511.7 380 Q505 384 502.5 390 M486.5 372 Q489 369 493 369.5"/>
<!-- bolt -->
<path d="M529 380.8 L538.3 393.3 L543.3 395"/>
<!-- nut -->
<path d="M485 410 L514 429"/>
<path class="w" d="M515.2 432 L518 428.7 L523 428.5 L526 432 L525.5 436.5 L522 440 L517.5 439.5 L515 436 Z" stroke-width="1.3"/>
<ellipse cx="520.5" cy="434" rx="2.2" ry="3" transform="rotate(25 520.5 434)"/>
<path d="M518 428.7 L518.5 433 L515 436"/>
</g>

<!-- 70_bolts.svg -->
<g class="ln">
<!-- top-left bolt -->
<ellipse class="w" cx="139.2" cy="147.2" rx="4.7" ry="6.0" transform="rotate(34.1 139.2 147.2)" stroke-width="1.3"/>
<path d="M134.4 147.0 L139.9 151.1 M137.2 142.8 L143.1 146.5" />
<ellipse class="w" cx="142.8" cy="149.7" rx="3.1" ry="6.6" transform="rotate(34.1 142.8 149.7)" stroke-width="1.3"/>
<path class="w" d="M142.4 152.5 L165.8 168.5 L168.8 164.1 L145.3 148.2 Z"/>
<ellipse class="w" cx="167.3" cy="166.3" rx="1.3" ry="2.6" transform="rotate(34.1 167.3 166.3)" stroke-width="1.3"/>
<ellipse cx="165.1" cy="164.8" rx="1.3" ry="2.6" transform="rotate(34.1 165.1 164.8)" stroke-width="1.3"/>
<ellipse cx="162.3" cy="162.9" rx="1.3" ry="2.6" transform="rotate(34.1 162.3 162.9)" stroke-width="1.3"/>
<ellipse cx="159.6" cy="161.1" rx="1.3" ry="2.6" transform="rotate(34.1 159.6 161.1)" stroke-width="1.3"/>
<!-- bolt 19 -->
<path class="w" d="M308.6 510.2 L293.8 500.7 L292.2 503.3 L307.0 512.8 Z"/>
<ellipse class="w" cx="293.0" cy="502.0" rx="0.7" ry="1.5" transform="rotate(-147.3 293.0 502.0)"/>
<ellipse cx="294.4" cy="502.9" rx="0.7" ry="1.5" transform="rotate(-147.3 294.4 502.9)" stroke-width="1.1"/>
<ellipse cx="296.3" cy="504.1" rx="0.7" ry="1.5" transform="rotate(-147.3 296.3 504.1)" stroke-width="1.1"/>
<ellipse cx="298.3" cy="505.4" rx="0.7" ry="1.5" transform="rotate(-147.3 298.3 505.4)" stroke-width="1.1"/>
<ellipse class="w" cx="305.4" cy="510.0" rx="2.6" ry="5.6" transform="rotate(-147.3 305.4 510.0)"/>
<ellipse class="w" cx="307.8" cy="511.5" rx="4.2" ry="5.1" transform="rotate(-147.3 307.8 511.5)" stroke-width="1.3"/>
<ellipse cx="308.8" cy="512.1" rx="2.7" ry="3.6" transform="rotate(-147.3 308.8 512.1)"/>
<path d="M306.4 507.8 L309.6 509.6 M303.9 511.8 L306.8 514.0"/>
<!-- bolt 21 -->
<path class="w" d="M460.6 510.5 L431.1 491.5 L428.9 495.1 L458.4 514.1 Z"/>
<ellipse class="w" cx="430.0" cy="493.3" rx="0.9" ry="2.1" transform="rotate(-147.2 430.0 493.3)"/>
<ellipse cx="431.8" cy="494.4" rx="0.9" ry="2.1" transform="rotate(-147.2 431.8 494.4)" stroke-width="1.1"/>
<ellipse cx="434.3" cy="496.1" rx="0.9" ry="2.1" transform="rotate(-147.2 434.3 496.1)" stroke-width="1.1"/>
<ellipse cx="436.8" cy="497.7" rx="0.9" ry="2.1" transform="rotate(-147.2 436.8 497.7)" stroke-width="1.1"/>
<ellipse class="w" cx="456.2" cy="510.2" rx="3.6" ry="7.8" transform="rotate(-147.2 456.2 510.2)"/>
<ellipse class="w" cx="459.5" cy="512.3" rx="5.8" ry="7.1" transform="rotate(-147.2 459.5 512.3)" stroke-width="1.3"/>
<ellipse cx="460.8" cy="513.2" rx="3.7" ry="5.0" transform="rotate(-147.2 460.8 513.2)"/>
<path d="M457.6 507.2 L462.1 509.7 M454.1 512.7 L458.2 515.7"/>
<!-- bolt 24 -->
<path class="w" d="M524.4 551.3 L502.6 537.1 L500.4 540.5 L522.2 554.7 Z"/>
<ellipse class="w" cx="501.5" cy="538.8" rx="0.9" ry="2.0" transform="rotate(-146.9 501.5 538.8)"/>
<ellipse cx="503.1" cy="539.8" rx="0.9" ry="2.0" transform="rotate(-146.9 503.1 539.8)" stroke-width="1.1"/>
<ellipse cx="505.3" cy="541.3" rx="0.9" ry="2.0" transform="rotate(-146.9 505.3 541.3)" stroke-width="1.1"/>
<ellipse cx="507.5" cy="542.7" rx="0.9" ry="2.0" transform="rotate(-146.9 507.5 542.7)" stroke-width="1.1"/>
<ellipse class="w" cx="520.3" cy="551.0" rx="3.3" ry="7.1" transform="rotate(-146.9 520.3 551.0)"/>
<ellipse class="w" cx="523.3" cy="553.0" rx="5.3" ry="6.5" transform="rotate(-146.9 523.3 553.0)" stroke-width="1.3"/>
<ellipse cx="524.5" cy="553.8" rx="3.4" ry="4.6" transform="rotate(-146.9 524.5 553.8)"/>
<path d="M521.6 548.4 L525.7 550.6 M518.4 553.3 L522.1 556.1"/>
<!-- bolt 23 -->
<path class="w" d="M352.9 687.0 L331.6 673.3 L329.4 676.7 L350.7 690.4 Z"/>
<ellipse class="w" cx="330.5" cy="675.0" rx="0.9" ry="2.0" transform="rotate(-147.3 330.5 675.0)"/>
<ellipse cx="332.1" cy="676.0" rx="0.9" ry="2.0" transform="rotate(-147.3 332.1 676.0)" stroke-width="1.1"/>
<ellipse cx="334.3" cy="677.5" rx="0.9" ry="2.0" transform="rotate(-147.3 334.3 677.5)" stroke-width="1.1"/>
<ellipse cx="336.6" cy="678.9" rx="0.9" ry="2.0" transform="rotate(-147.3 336.6 678.9)" stroke-width="1.1"/>
<ellipse class="w" cx="348.7" cy="686.7" rx="3.3" ry="7.1" transform="rotate(-147.3 348.7 686.7)"/>
<ellipse class="w" cx="351.8" cy="688.7" rx="5.3" ry="6.5" transform="rotate(-147.3 351.8 688.7)" stroke-width="1.3"/>
<ellipse cx="353.0" cy="689.5" rx="3.4" ry="4.6" transform="rotate(-147.3 353.0 689.5)"/>
<path d="M350.1 684.1 L354.1 686.3 M346.9 689.1 L350.6 691.8"/>
<!-- bolt 22 -->
<path class="w" d="M390.4 735.2 L361.6 717.7 L359.4 721.3 L388.2 738.8 Z"/>
<ellipse class="w" cx="360.5" cy="719.5" rx="0.9" ry="2.1" transform="rotate(-148.7 360.5 719.5)"/>
<ellipse cx="362.3" cy="720.6" rx="0.9" ry="2.1" transform="rotate(-148.7 362.3 720.6)" stroke-width="1.1"/>
<ellipse cx="364.9" cy="722.1" rx="0.9" ry="2.1" transform="rotate(-148.7 364.9 722.1)" stroke-width="1.1"/>
<ellipse cx="367.4" cy="723.7" rx="0.9" ry="2.1" transform="rotate(-148.7 367.4 723.7)" stroke-width="1.1"/>
<ellipse class="w" cx="385.8" cy="734.9" rx="3.7" ry="8.0" transform="rotate(-148.7 385.8 734.9)"/>
<ellipse class="w" cx="389.3" cy="737.0" rx="5.9" ry="7.3" transform="rotate(-148.7 389.3 737.0)" stroke-width="1.3"/>
<ellipse cx="390.7" cy="737.8" rx="3.8" ry="5.2" transform="rotate(-148.7 390.7 737.8)"/>
<path d="M387.2 731.8 L391.9 734.2 M383.8 737.5 L388.0 740.5"/>
<!-- bolt pump2 -->
<path class="w" d="M567.6 407.8 L545.1 393.8 L542.9 397.2 L565.4 411.2 Z"/>
<ellipse class="w" cx="544.0" cy="395.5" rx="0.9" ry="2.0" transform="rotate(-148.1 544.0 395.5)"/>
<ellipse cx="545.6" cy="396.5" rx="0.9" ry="2.0" transform="rotate(-148.1 545.6 396.5)" stroke-width="1.1"/>
<ellipse cx="547.8" cy="397.9" rx="0.9" ry="2.0" transform="rotate(-148.1 547.8 397.9)" stroke-width="1.1"/>
<ellipse cx="550.1" cy="399.3" rx="0.9" ry="2.0" transform="rotate(-148.1 550.1 399.3)" stroke-width="1.1"/>
<ellipse class="w" cx="563.5" cy="407.6" rx="3.2" ry="6.9" transform="rotate(-148.1 563.5 407.6)"/>
<ellipse class="w" cx="566.5" cy="409.5" rx="5.1" ry="6.3" transform="rotate(-148.1 566.5 409.5)" stroke-width="1.3"/>
<ellipse cx="567.7" cy="410.2" rx="3.3" ry="4.5" transform="rotate(-148.1 567.7 410.2)"/>
<path d="M564.8 405.0 L568.7 407.1 M561.7 409.9 L565.4 412.6"/>
</g>

<!-- 71_studs.svg -->
<g class="ln">
<!-- stud3 upper -->
<path class="w" d="M214.8 420.4 L239.4 436.4 L241.8 432.8 L217.2 416.8 Z"/>
<ellipse class="w" cx="240.6" cy="434.6" rx="1.0" ry="2.2" transform="rotate(33.0 240.6 434.6)"/>
<ellipse class="w" cx="216.0" cy="418.6" rx="1.0" ry="2.2" transform="rotate(33.0 216.0 418.6)"/>
<ellipse cx="217.9" cy="419.9" rx="1.0" ry="2.2" transform="rotate(33.0 217.9 419.9)"/>
<ellipse cx="219.9" cy="421.1" rx="1.0" ry="2.2" transform="rotate(33.0 219.9 421.1)"/>
<ellipse cx="238.7" cy="433.3" rx="1.0" ry="2.2" transform="rotate(33.0 238.7 433.3)"/>
<ellipse cx="236.7" cy="432.1" rx="1.0" ry="2.2" transform="rotate(33.0 236.7 432.1)"/>
<ellipse cx="234.8" cy="430.8" rx="1.0" ry="2.2" transform="rotate(33.0 234.8 430.8)"/>
<!-- stud lower -->
<path class="w" d="M219.5 454.0 L238.0 467.6 L240.6 464.0 L222.1 450.4 Z"/>
<ellipse class="w" cx="239.3" cy="465.8" rx="1.0" ry="2.2" transform="rotate(36.3 239.3 465.8)"/>
<ellipse class="w" cx="220.8" cy="452.2" rx="1.0" ry="2.2" transform="rotate(36.3 220.8 452.2)"/>
<ellipse cx="222.7" cy="453.6" rx="1.0" ry="2.2" transform="rotate(36.3 222.7 453.6)"/>
<ellipse cx="224.5" cy="454.9" rx="1.0" ry="2.2" transform="rotate(36.3 224.5 454.9)"/>
<ellipse cx="237.4" cy="464.4" rx="1.0" ry="2.2" transform="rotate(36.3 237.4 464.4)"/>
<ellipse cx="235.6" cy="463.1" rx="1.0" ry="2.2" transform="rotate(36.3 235.6 463.1)"/>
<ellipse cx="233.7" cy="461.7" rx="1.0" ry="2.2" transform="rotate(36.3 233.7 461.7)"/>
<!-- stud3 left -->
<path class="w" d="M79.4 521.3 L103.4 536.2 L105.8 532.4 L81.8 517.5 Z"/>
<ellipse class="w" cx="104.6" cy="534.3" rx="1.0" ry="2.2" transform="rotate(31.8 104.6 534.3)"/>
<ellipse class="w" cx="80.6" cy="519.4" rx="1.0" ry="2.2" transform="rotate(31.8 80.6 519.4)"/>
<ellipse cx="82.6" cy="520.6" rx="1.0" ry="2.2" transform="rotate(31.8 82.6 520.6)"/>
<ellipse cx="84.5" cy="521.8" rx="1.0" ry="2.2" transform="rotate(31.8 84.5 521.8)"/>
<ellipse cx="86.5" cy="523.0" rx="1.0" ry="2.2" transform="rotate(31.8 86.5 523.0)"/>
<ellipse cx="102.6" cy="533.1" rx="1.0" ry="2.2" transform="rotate(31.8 102.6 533.1)"/>
<ellipse cx="100.7" cy="531.9" rx="1.0" ry="2.2" transform="rotate(31.8 100.7 531.9)"/>
<!-- stud 2 -->
<path class="w" d="M479.9 609.7 L498.4 620.5 L500.6 616.7 L482.1 605.9 Z"/>
<ellipse class="w" cx="499.5" cy="618.6" rx="1.0" ry="2.2" transform="rotate(30.3 499.5 618.6)"/>
<ellipse class="w" cx="481.0" cy="607.8" rx="1.0" ry="2.2" transform="rotate(30.3 481.0 607.8)"/>
<ellipse cx="483.0" cy="609.0" rx="1.0" ry="2.2" transform="rotate(30.3 483.0 609.0)"/>
<ellipse cx="485.0" cy="610.1" rx="1.0" ry="2.2" transform="rotate(30.3 485.0 610.1)"/>
<ellipse cx="487.0" cy="611.3" rx="1.0" ry="2.2" transform="rotate(30.3 487.0 611.3)"/>
<ellipse cx="497.5" cy="617.4" rx="1.0" ry="2.2" transform="rotate(30.3 497.5 617.4)"/>
<ellipse cx="495.5" cy="616.3" rx="1.0" ry="2.2" transform="rotate(30.3 495.5 616.3)"/>
<!-- stud 12 -->
<path class="w" d="M417.2 668.5 L436.2 679.5 L438.4 675.7 L419.4 664.7 Z"/>
<ellipse class="w" cx="437.3" cy="677.6" rx="1.0" ry="2.2" transform="rotate(30.1 437.3 677.6)"/>
<ellipse class="w" cx="418.3" cy="666.6" rx="1.0" ry="2.2" transform="rotate(30.1 418.3 666.6)"/>
<ellipse cx="420.3" cy="667.8" rx="1.0" ry="2.2" transform="rotate(30.1 420.3 667.8)"/>
<ellipse cx="422.3" cy="668.9" rx="1.0" ry="2.2" transform="rotate(30.1 422.3 668.9)"/>
<ellipse cx="424.3" cy="670.1" rx="1.0" ry="2.2" transform="rotate(30.1 424.3 670.1)"/>
<ellipse cx="435.3" cy="676.4" rx="1.0" ry="2.2" transform="rotate(30.1 435.3 676.4)"/>
<ellipse cx="433.3" cy="675.3" rx="1.0" ry="2.2" transform="rotate(30.1 433.3 675.3)"/>
</g>

<!-- 90_labels.svg -->
<g class="lb">
<text transform="translate(255 197.2)" font-size="8.5">7</text>
<text transform="translate(271 198.4) scale(.86 1)">–18</text>
<text transform="translate(268 414) scale(.88 1)">3</text>
<text transform="translate(64.8 468) scale(.88 1)">32</text>
<text transform="translate(66.4 578) scale(.88 1)">25</text>
<text transform="translate(89.7 591) scale(.88 1)">3</text>
<text transform="translate(148.7 630.3) scale(.88 1)">16</text>
<text transform="translate(178 649) scale(.88 1)">11</text>
<text transform="translate(338.6 468.6) scale(.88 1)" font-weight="700">1</text>
<text transform="translate(341.3 518.3) scale(.88 1)">19</text>
<text transform="translate(204.6 616.7) scale(.88 1)">7</text>
<text transform="translate(204.6 643.3) scale(.88 1)">8</text>
<text transform="translate(458 477) scale(.88 1)">21</text>
<text transform="translate(289.3 743.2) scale(.88 1)">5</text>
<text transform="translate(531.3 541.3) scale(.88 1)">24</text>
<text transform="translate(496.3 581.8) scale(.88 1)">2</text>
<text transform="translate(546.5 647) scale(.88 1)">27</text>
<text transform="translate(573 642) scale(.88 1)">26</text>
<text transform="translate(609.5 658) scale(.88 1)">28</text>
<text transform="translate(576.7 753) scale(.88 1)">30</text>
<text transform="translate(596.7 758.7) scale(.88 1)">29</text>
<text transform="translate(455 784) scale(.88 1)">6</text>
<text transform="translate(425.5 702) scale(.88 1)">12</text>
<text transform="translate(479.5 734.6) scale(.88 1)">10</text>
<text transform="translate(497.5 746) scale(.88 1)">9</text>
<text transform="translate(528.3 766) scale(.88 1)">14</text>
<text transform="translate(544.5 774.6) scale(.88 1)">18</text>
<text transform="translate(334 748) scale(.88 1)">23</text>
<text transform="translate(384.5 781) scale(.88 1)">22</text>
<text transform="translate(382.5 825.8) scale(.88 1)">4</text>
</g>

</svg>
</body></html>
